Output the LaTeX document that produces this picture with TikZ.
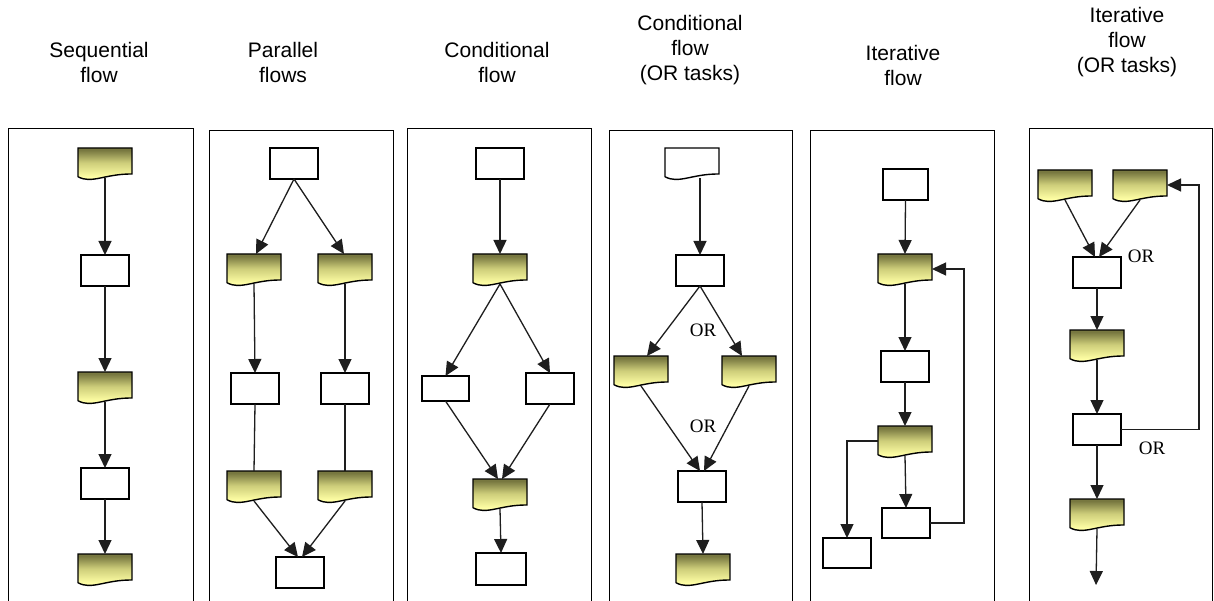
\documentclass[tikz,border=0pt]{standalone}
\usepackage{fontspec}
\setmainfont{Liberation Sans}
\newfontfamily\orfont{Liberation Serif}
\usetikzlibrary{arrows.meta}
\definecolor{docTop}{RGB}{120,120,64}
\definecolor{docMid}{RGB}{205,205,122}
\definecolor{docBot}{RGB}{255,255,165}
\definecolor{lineGray}{RGB}{30,30,30}
\pgfdeclareverticalshading{docshade}{100bp}{color(0bp)=(docBot); color(25bp)=(docBot); color(35bp)=(docBot); color(55bp)=(docMid); color(72bp)=(docTop); color(100bp)=(docTop)}
\newcommand\docnode[4][docyellow]{%
  \node[docbox] (#2) at (#3,#4) {};
  \begin{scope}[shift={(#3,#4)}]
    \path[#1] (0,0) -- (54,0) -- (54,26) .. controls (27,25.7) and (13.5,36.3) .. (0,28.7) -- cycle;
  \end{scope}
}
\begin{document}
\begin{tikzpicture}[x=1pt,y=-1pt,
  panel/.style={draw=black,line width=0.9pt},
  title/.style={font=\fontsize{21}{25}\selectfont, align=center, anchor=base, inner sep=0pt},
  orlabel/.style={font=\orfont\fontsize{19}{22}\selectfont, inner sep=0pt},
  task/.style={draw=black, line width=1.8pt, fill=white, minimum width=48pt, minimum height=31pt, inner sep=0pt, outer sep=0pt, anchor=north west},
  docbox/.style={minimum width=54pt, minimum height=30pt, inner sep=0pt, outer sep=0pt, anchor=north west},
  docyellow/.style={draw=black, line width=1.4pt, shading=docshade},
  docwhite/.style={draw=black, line width=1.4pt, fill=white},
  arr/.style={draw=lineGray, line width=1.3pt, -{Triangle[length=14pt,width=13pt]}},
  link/.style={draw=lineGray, line width=1.3pt},
]
\useasboundingbox (0,0) rectangle (1214,601);
\clip (0,0) rectangle (1214,601);
\fill[white] (0,0) rectangle (1214,601);

% titles (anchor = baseline of the last line)
\node[title] (t1) at (99,83) {Sequential\\flow};
\node[title] (t2) at (283,83) {Parallel\\flows};
\node[title] (t3) at (497,83) {Conditional\\flow};
\node[title] (t4) at (690,81) {Conditional\\flow\\(OR tasks)};
\node[title] (t5) at (903,86) {Iterative\\flow};
\node[title] (t6) at (1127,73) {Iterative\\flow\\(OR tasks)};

% panels
\draw[panel] (8,610) |- (193,128) -- (193,610);
\draw[panel] (209,610) |- (393,130) -- (393,610);
\draw[panel] (407,610) |- (591,128) -- (591,610);
\draw[panel] (609,610) |- (792,130) -- (792,610);
\draw[panel] (810,610) |- (994,130) -- (994,610);
\draw[panel] (1029,610) |- (1212,128) -- (1212,610);

% ---- panel 1: sequential
\docnode{d11}{78}{148}
\node[task] (r11) at (81,255) {};
\docnode{d12}{78}{372}
\node[task] (r12) at (81,468) {};
\docnode{d13}{78}{554}
\draw[arr] (d11.south) -- (r11.north);
\draw[arr] (r11.south) -- (d12.north);
\draw[arr] (d12.south) -- (r12.north);
\draw[arr] (r12.south) -- (d13.north);

% ---- panel 2: parallel
\node[task] (r21) at (270,148) {};
\docnode{d21}{227}{254}
\docnode{d22}{318}{254}
\node[task] (r22) at (231,373) {};
\node[task] (r23) at (321,373) {};
\docnode{d23}{227}{471}
\docnode{d24}{318}{471}
\node[task] (r24) at (276,557) {};
\draw[arr] (r21.south) -- ([xshift=2pt]d21.north);
\draw[arr] (r21.south) -- ([xshift=-1pt]d22.north);
\draw[arr] (d21.south) -- (r22.north);
\draw[arr] (d22.south) -- (r23.north);
\draw[link] (r22.south) -- (d23.north);
\draw[link] (r23.south) -- (d24.north);
\draw[arr] (d23.south) -- ([xshift=-2pt]r24.north);
\draw[arr] (d24.south) -- ([xshift=2pt]r24.north);

% ---- panel 3: conditional
\node[task] (r31) at (476,148) {};
\docnode{d31}{473}{254}
\node[task, minimum width=47pt, minimum height=25pt] (r32) at (422,376) {};
\node[task] (r33) at (526,373) {};
\docnode{d32}{473}{479}
\node[task, minimum width=50pt, minimum height=32pt] (r34) at (476,553) {};
\draw[arr] (r31.south) -- (d31.north);
\draw[arr] (d31.south) -- (r32.north);
\draw[arr] (d31.south) -- (r33.north);
\draw[arr] (r32.south) -- ([xshift=-2pt]d32.north);
\draw[arr] (r33.south) -- ([xshift=2pt]d32.north);
\draw[arr] (d32.south) -- (r34.north);

% ---- panel 4: conditional (OR tasks)
\docnode[docwhite]{d41}{665}{148}
\node[task] (r41) at (676,255) {};
\docnode{d42}{614}{356}
\docnode{d43}{722}{356}
\node[task] (r42) at (678,471) {};
\docnode{d44}{676}{554}
\node[orlabel] (or41) at (703,330) {OR};
\node[orlabel] (or42) at (703,426) {OR};
\draw[arr] (d41.south -| r41.north) -- (r41.north);
\draw[arr] (r41.south) -- ([xshift=6pt]d42.north);
\draw[arr] (r41.south) -- ([xshift=-7pt]d43.north);
\draw[arr] (d42.south) -- ([xshift=-2pt]r42.north);
\draw[arr] (d43.south) -- ([xshift=2pt]r42.north);
\draw[arr] (r42.south) -- (d44.north);

% ---- panel 5: iterative
\node[task, minimum width=45pt] (r51) at (883,169) {};
\docnode{d51}{878}{254}
\node[task] (r52) at (881,351) {};
\docnode{d52}{878}{426}
\node[task, minimum height=30pt] (r53) at (882,508) {};
\node[task, minimum height=30pt] (r54) at (823,538) {};
\draw[arr] (r51.south) -- (d51.north);
\draw[arr] (d51.south) -- (r52.north);
\draw[arr] (r52.south) -- (d52.north);
\draw[arr] (d52.south) -- (r53.north);
\draw[arr] (d52.west) -| (r54.north);
\draw[arr] (r53.east) -| ([xshift=32pt]d51.east) -- (d51.east);

% ---- panel 6: iterative (OR tasks)
\docnode{d61}{1038}{170}
\docnode{d62}{1113}{170}
\node[task] (r61) at (1073,257) {};
\docnode{d63}{1070}{330}
\node[task] (r62) at (1073,414) {};
\docnode{d64}{1070}{499}
\coordinate (e6) at (1096,585);
\node[orlabel] (or61) at (1141,256) {OR};
\node[orlabel] (or62) at (1152,448) {OR};
\draw[arr] (d61.south) -- ([xshift=-2pt]r61.north);
\draw[arr] (d62.south) -- ([xshift=2pt]r61.north);
\draw[arr] (r61.south) -- (d63.north);
\draw[arr] (d63.south) -- (r62.north);
\draw[arr] (r62.south) -- (d64.north);
\draw[arr] (d64.south) -- (e6);
\draw[arr] (r62.east) -| ([xshift=32pt]d62.east) -- (d62.east);
\end{tikzpicture}
\end{document}
